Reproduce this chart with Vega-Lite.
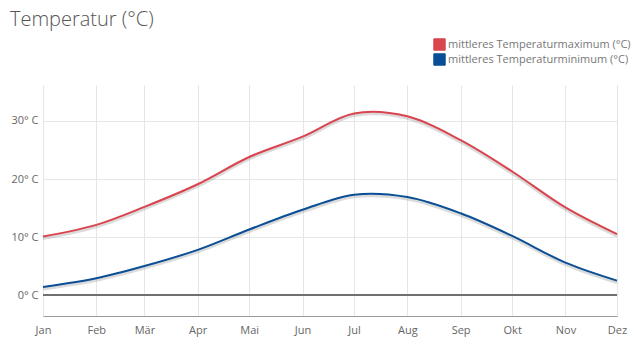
{
  "$schema": "https://vega.github.io/schema/vega-lite/v6.json",
  "width": 574,
  "height": 231,
  "autosize": {"type": "none"},
  "padding": {"left": 43, "top": 85, "right": 21, "bottom": 35},
  "background": "white",
  "title": {
    "text": "Temperatur (°C)",
    "anchor": "start",
    "dx": -1,
    "offset": 7,
    "font": "Open Sans",
    "fontSize": 20,
    "fontWeight": 300,
    "color": "#555"
  },
  "data": {
    "values": [
      {"Monat": "Jan", "Tag": 0, "Serie": "mittleres Temperaturmaximum (°C)", "Temp": 10.1},
      {"Monat": "Feb", "Tag": 31, "Serie": "mittleres Temperaturmaximum (°C)", "Temp": 12.1},
      {"Monat": "Mär", "Tag": 59, "Serie": "mittleres Temperaturmaximum (°C)", "Temp": 15.2},
      {"Monat": "Apr", "Tag": 90, "Serie": "mittleres Temperaturmaximum (°C)", "Temp": 19.1},
      {"Monat": "Mai", "Tag": 120, "Serie": "mittleres Temperaturmaximum (°C)", "Temp": 23.8},
      {"Monat": "Jun", "Tag": 151, "Serie": "mittleres Temperaturmaximum (°C)", "Temp": 27.3},
      {"Monat": "Jul", "Tag": 181, "Serie": "mittleres Temperaturmaximum (°C)", "Temp": 31.3},
      {"Monat": "Aug", "Tag": 212, "Serie": "mittleres Temperaturmaximum (°C)", "Temp": 30.8},
      {"Monat": "Sep", "Tag": 243, "Serie": "mittleres Temperaturmaximum (°C)", "Temp": 26.7},
      {"Monat": "Okt", "Tag": 273, "Serie": "mittleres Temperaturmaximum (°C)", "Temp": 21.3},
      {"Monat": "Nov", "Tag": 304, "Serie": "mittleres Temperaturmaximum (°C)", "Temp": 15.1},
      {"Monat": "Dez", "Tag": 334, "Serie": "mittleres Temperaturmaximum (°C)", "Temp": 10.5},
      {"Monat": "Jan", "Tag": 0, "Serie": "mittleres Temperaturminimum (°C)", "Temp": 1.4},
      {"Monat": "Feb", "Tag": 31, "Serie": "mittleres Temperaturminimum (°C)", "Temp": 2.9},
      {"Monat": "Mär", "Tag": 59, "Serie": "mittleres Temperaturminimum (°C)", "Temp": 5.0},
      {"Monat": "Apr", "Tag": 90, "Serie": "mittleres Temperaturminimum (°C)", "Temp": 7.8},
      {"Monat": "Mai", "Tag": 120, "Serie": "mittleres Temperaturminimum (°C)", "Temp": 11.3},
      {"Monat": "Jun", "Tag": 151, "Serie": "mittleres Temperaturminimum (°C)", "Temp": 14.7},
      {"Monat": "Jul", "Tag": 181, "Serie": "mittleres Temperaturminimum (°C)", "Temp": 17.3},
      {"Monat": "Aug", "Tag": 212, "Serie": "mittleres Temperaturminimum (°C)", "Temp": 16.9},
      {"Monat": "Sep", "Tag": 243, "Serie": "mittleres Temperaturminimum (°C)", "Temp": 14.1},
      {"Monat": "Okt", "Tag": 273, "Serie": "mittleres Temperaturminimum (°C)", "Temp": 10.2},
      {"Monat": "Nov", "Tag": 304, "Serie": "mittleres Temperaturminimum (°C)", "Temp": 5.6},
      {"Monat": "Dez", "Tag": 334, "Serie": "mittleres Temperaturminimum (°C)", "Temp": 2.5}
    ]
  },
  "encoding": {
    "x": {
      "field": "Tag",
      "type": "quantitative",
      "scale": {"domain": [0, 334], "nice": false, "zero": false},
      "axis": {
        "title": null,
        "values": [0, 31, 59, 90, 120, 151, 181, 212, 243, 273, 304, 334],
        "labelExpr": "['Jan','Feb','Mär','Apr','Mai','Jun','Jul','Aug','Sep','Okt','Nov','Dez'][indexof([0,31,59,90,120,151,181,212,243,273,304,334], datum.value)]",
        "grid": true,
        "gridColor": "#e6e6e6",
        "ticks": false,
        "domain": true,
        "domainColor": "#999",
        "labelFont": "Open Sans",
        "labelFontSize": 11,
        "labelColor": "#666",
        "labelPadding": 8,
        "labelFlush": false
      }
    },
    "y": {
      "field": "Temp",
      "type": "quantitative",
      "scale": {"domain": [-3.6, 36.2], "nice": false, "zero": false},
      "axis": {
        "title": null,
        "values": [0, 10, 20, 30],
        "labelExpr": "datum.value + '° C'",
        "grid": true,
        "gridColor": "#e6e6e6",
        "ticks": false,
        "domain": false,
        "labelFont": "Open Sans",
        "labelFontSize": 11,
        "labelColor": "#666",
        "labelPadding": 5
      }
    }
  },
  "layer": [
    {
      "mark": {"type": "rule", "color": "#707070", "strokeWidth": 1.5},
      "encoding": {"y": {"datum": 0}, "x": {"value": 0}, "x2": {"value": 574}}
    },
    {
      "mark": {"type": "line", "interpolate": "catmull-rom", "color": "#999", "strokeWidth": 3, "opacity": 0.35, "yOffset": 2},
      "encoding": {"detail": {"field": "Serie"}}
    },
    {
      "mark": {"type": "line", "interpolate": "catmull-rom", "strokeWidth": 2},
      "encoding": {
        "color": {
          "field": "Serie",
          "type": "nominal",
          "scale": {"range": ["#d9444f", "#0a4f95"]},
          "legend": {
            "title": null,
            "orient": "none",
            "legendX": 390,
            "legendY": -48,
            "symbolType": "square",
            "symbolSize": 130,
            "labelFont": "Open Sans",
            "labelFontSize": 11,
            "labelColor": "#777",
            "labelOffset": 2,
            "rowPadding": 0,
            "clipHeight": 15,
            "labelLimit": 300,
            "encode": {
              "symbols": {
                "update": {
                  "fill": {"scale": "color", "field": "value"},
                  "fillOpacity": {"value": 1},
                  "stroke": {"value": "#c8c8c8"},
                  "strokeWidth": {"value": 1}
                }
              }
            }
          }
        }
      }
    }
  ],
  "config": {"view": {"stroke": null}}
}
